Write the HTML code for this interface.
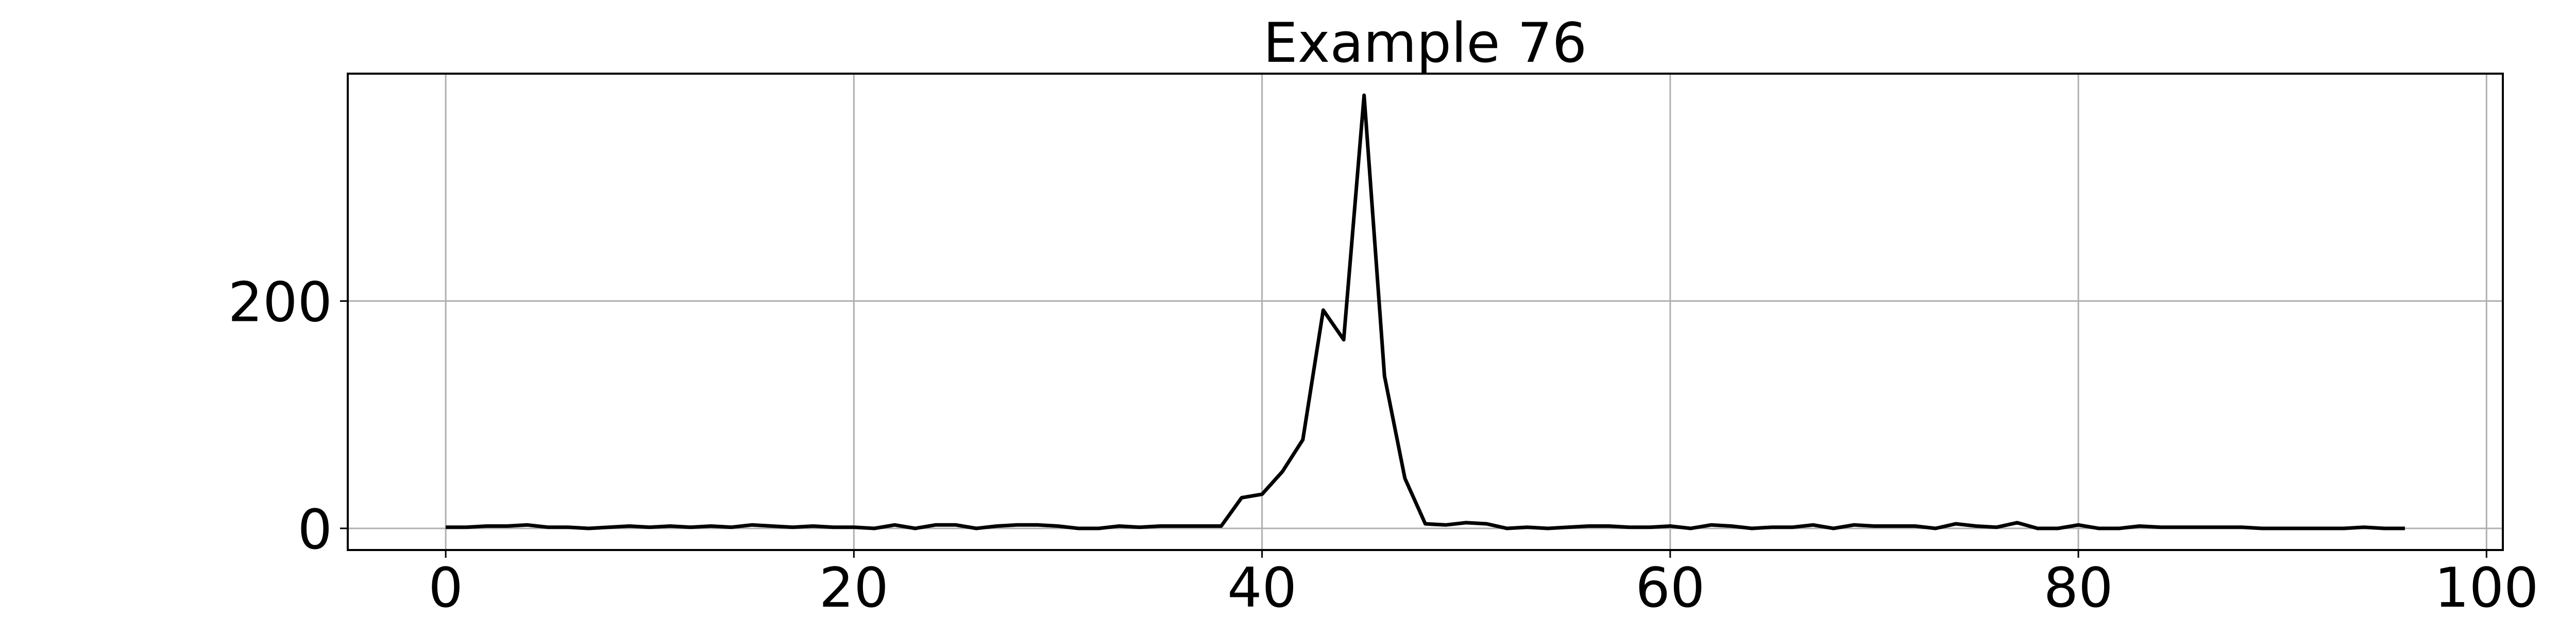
<!DOCTYPE html>
<html><head><meta charset="utf-8"><style>html,body{margin:0;padding:0;background:#fff}svg{display:block}</style></head>
<body>
<svg id="chart" width="5400" height="1200" xmlns="http://www.w3.org/2000/svg" font-family="DejaVu Sans, Liberation Sans, sans-serif">
<text x="2766" y="120" font-size="106" text-anchor="middle">Example 76</text>
<g id="grid"></g>
<g id="series"></g>
<rect x="675" y="143" width="4183" height="925" fill="none" stroke="#000" stroke-width="4"/>
<g id="ticks"></g>
</svg>
<script>
const values = [1,1,2,2,3,1,1,0,1,2,1,2,1,2,1,3,2,1,2,1,1,0,3,0,3,3,0,2,3,3,2,0,0,2,1,2,2,2,2,27,30,50,78,192,166,381,134,44,4,3,5,4,0,1,0,1,2,2,1,1,2,0,3,2,0,1,1,3,0,3,2,2,2,0,4,2,1,5,0,0,3,0,0,2,1,1,1,1,1,0,0,0,0,0,1,0,0];
const xTicks = [0,20,40,60,80,100];
const yTicks = [0,200];
const L=675,R=4858,T=143,B=1068;
const xMin=-4.8,xMax=100.8,yMin=-19.05,yMax=400.05;
const sx=v=>L+(v-xMin)/(xMax-xMin)*(R-L);
const sy=v=>B-(v-yMin)/(yMax-yMin)*(B-T);
const NS='http://www.w3.org/2000/svg';
const mk=(t,a,p)=>{const e=document.createElementNS(NS,t);for(const k in a)e.setAttribute(k,a[k]);p.appendChild(e);return e;};
const grid=document.getElementById('grid'),ticks=document.getElementById('ticks'),series=document.getElementById('series');
xTicks.forEach(t=>{const x=sx(t);
 const g=mk('line',{x1:x,x2:x,y1:T,y2:B,stroke:'#b0b0b0','stroke-width':3},grid);
 
 
 const m=mk('line',{x1:x,x2:x,y1:B,y2:B+15,stroke:'#000','stroke-width':3},ticks);
 
 
 const l=mk('text',{x:x,y:1178,'font-size':106,'text-anchor':'middle'},ticks);l.textContent=t;
 
 
});
yTicks.forEach(t=>{const y=sy(t);
 const g=mk('line',{x1:L,x2:R,y1:y,y2:y,stroke:'#b0b0b0','stroke-width':3},grid);
 
 
 const m=mk('line',{x1:L-15,x2:L,y1:y,y2:y,stroke:'#000','stroke-width':3},ticks);
 
 
 const l=mk('text',{x:L-30,y:y+39,'font-size':106,'text-anchor':'end'},ticks);l.textContent=t;
 
 
});
const pts=values.map((v,i)=>sx(i).toFixed(1)+','+sy(v).toFixed(1)).join(' ');
const pl=mk('polyline',{points:pts,fill:'none',stroke:'#000','stroke-width':7,'stroke-linejoin':'round'},series);


</script>
</body></html>
